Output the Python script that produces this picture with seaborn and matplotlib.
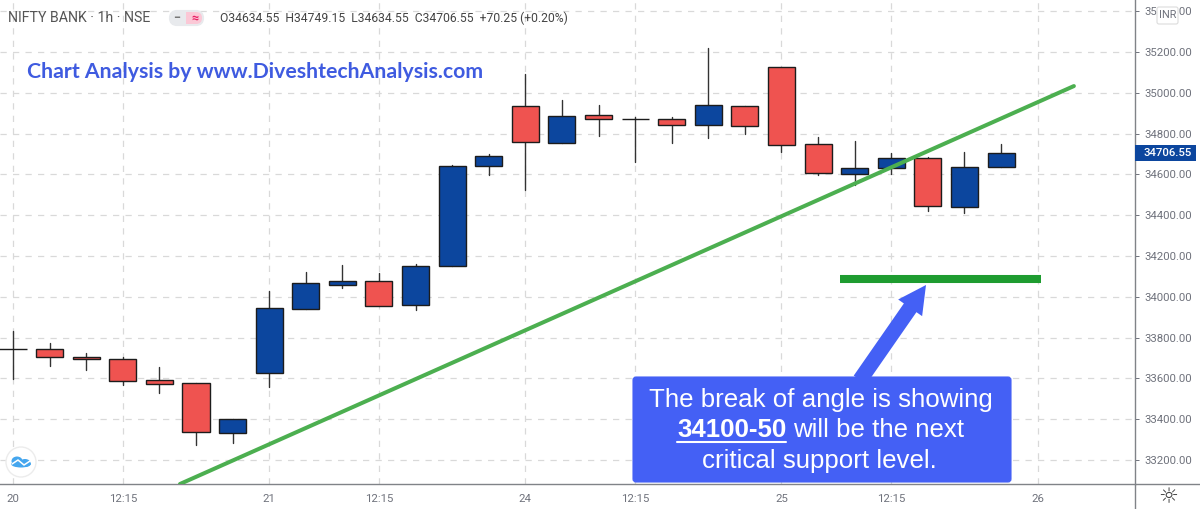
import pandas as pd
import numpy as np
import matplotlib
matplotlib.use('Agg')
import matplotlib.pyplot as plt
import seaborn as sns
from matplotlib.patches import FancyBboxPatch, FancyArrowPatch, Rectangle, Circle, Ellipse
from matplotlib.lines import Line2D
from matplotlib.transforms import Affine2D

# candle values
opens = [33746, 33742, 33706, 33697, 33590, 33576, 33331, 33626, 33940, 34058,
         34078, 33960, 34151, 34641, 34935, 34754, 34891, 34872, 34872, 34841,
         34935, 35128, 34748, 34602, 34630, 34679, 34439, 34634.55]
closes = [33746, 33705, 33695, 33589, 33574, 33336, 33402, 33945, 34068, 34078,
          33955, 34151, 34641, 34690, 34759, 34886, 34872, 34872, 34842, 34940,
          34836, 34743, 34607, 34631, 34679, 34444, 34636, 34706.55]
highs = [33834, 33772, 33723, 33703, 33656, 33576, 33402, 34028, 34122, 34156,
         34117, 34160, 34645, 34700, 35092, 34965, 34940, 34881, 34881, 35220,
         34935, 35128, 34782, 34764, 34705, 34685, 34711, 34749.15]
lows = [33597, 33662, 33641, 33568, 33530, 33274, 33283, 33560, 33940, 34043,
        33955, 33935, 34151, 34597, 34523, 34754, 34788, 34661, 34754, 34780,
        34798, 34710, 34597, 34547, 34602, 34421, 34411, 34634.55]

xtick_pos = [0, 3, 7, 10, 14, 17, 21, 24, 28]
xtick_labels = ['20', '12:15', '21', '12:15', '24', '12:15', '25', '12:15', '26']
ytick_values = [33200, 33400, 33600, 33800, 34000, 34200, 34400, 34600, 34800, 35000, 35200, 35400]

trend_x = [4.563, 28.99]
trend_y = [33082, 35033]
support_x = [22.6, 28.09]
support_y = [34088, 34088]
last_price = 34706.55

BLUE = '#0c469e'
RED = '#ef5350'
GREY = '#6f727c'

sns.set_theme(style='white')
plt.rcParams['font.family'] = ['Roboto', 'DejaVu Sans']

df = pd.DataFrame({'open': opens, 'close': closes, 'high': highs, 'low': lows})
df['i'] = np.arange(len(df))

wicks = pd.concat([df[['i', 'high']].rename(columns={'high': 'price'}),
                   df[['i', 'low']].rename(columns={'low': 'price'})]).sort_values('i')

fig = plt.figure(figsize=(12, 5.09), dpi=100)
ax = fig.add_axes([0, 25 / 509, 1135 / 1200, 484 / 509])
# pixel coords, top left origin like the picture
px = Affine2D().scale(1, -1).translate(0, 509)

ax.set_xlim(-0.355, 30.66)
ax.set_ylim(33082, 35455)

sns.lineplot(data=wicks, x='i', y='price', units='i', estimator=None, sort=False,
             color='#333333', linewidth=1.0, ax=ax, zorder=3)

colors = [BLUE if c > o else RED for o, c in zip(df['open'], df['close'])]
colors[0] = '#111111'
colors[17] = '#111111'
body_low = df[['open', 'close']].min(axis=1)
body_h = (df['close'] - df['open']).abs()
ax.bar(df['i'], body_h, bottom=body_low, width=0.74, color=colors,
       edgecolor='#1c1c1c', linewidth=1.0, zorder=4)

sns.lineplot(x=trend_x, y=trend_y, color='#4caf50', linewidth=2.9, ax=ax, zorder=5)
sns.lineplot(x=support_x, y=support_y, color='#1e9c30', linewidth=5.8, ax=ax, zorder=5,
             solid_capstyle='butt')

ax.set_xlabel('')
ax.set_ylabel('')
ax.set_xticks(xtick_pos)
ax.set_xticklabels(xtick_labels)
ax.set_yticks(ytick_values)
ax.set_yticklabels(['%.2f' % v for v in ytick_values])
ax.yaxis.tick_right()
ax.grid(True, color='#d9d9d9', linestyle=(0, (5, 5)), linewidth=0.9)
ax.set_axisbelow(True)
ax.tick_params(axis='both', colors=GREY, labelsize=8.2, length=3, width=0.7, pad=3.5)
ax.tick_params(axis='x', pad=4)
for s in ['top', 'left']:
    ax.spines[s].set_visible(False)
for s in ['right', 'bottom']:
    ax.spines[s].set_color('#808388')
    ax.spines[s].set_linewidth(1.0)

# axis lines run past the plot area
fig.add_artist(Line2D([1135, 1200], [484, 484], transform=px, color='#808388', lw=1.0))
fig.add_artist(Line2D([1135, 1135], [484, 509], transform=px, color='#808388', lw=1.0))

# header
fig.text(8, 18, 'NIFTY BANK · 1h · NSE', transform=px, fontsize=10.2, color='#555555', va='center')
pill = FancyBboxPatch((171, 12), 31, 12, boxstyle='round,pad=0,rounding_size=6', transform=px,
                      facecolor='#e8eaed', edgecolor='#e8eaed', linewidth=3)
fig.add_artist(pill)
pink = Rectangle((186, 8), 22, 20, transform=px, facecolor='#fbc8d6', edgecolor='none')
fig.add_artist(pink)
pink.set_clip_path(pill)
fig.text(177, 18, '−', transform=px, fontsize=9, color='#777777', ha='center', va='center', fontweight='bold')
fig.text(195, 18, '≈', transform=px, fontsize=9, color='#e91e63', ha='center', va='center', fontweight='bold')
fig.text(220, 18, 'O34634.55  H34749.15  L34634.55  C34706.55  +70.25 (+0.20%)', transform=px,
         fontsize=8.75, color='#444444', va='center')

fig.text(27, 72, 'Chart Analysis by www.DiveshtechAnalysis.com', transform=px,
         family='Lato', fontweight='bold', fontsize=15.3, color='#3f5be0', va='center')

# INR badge
fig.add_artist(FancyBboxPatch((1157, 7), 21, 17, boxstyle='round,pad=0,rounding_size=2', transform=px,
                              facecolor='white', edgecolor='#dcdcdc', linewidth=0.8, zorder=6))
fig.text(1167.5, 15.5, 'INR', transform=px, fontsize=7.8, color=GREY, ha='center', va='center', zorder=7)

# last price tag
fig.add_artist(Rectangle((1135, 145), 61, 16, transform=px, facecolor=BLUE, edgecolor='none', zorder=6))
fig.text(1144, 153, '%.2f' % last_price, transform=px, fontsize=8.2, color='white', va='center',
         fontweight='medium', zorder=7)

# arrow and callout
fig.add_artist(FancyArrowPatch(posA=(860, 380), posB=(926, 285), transform=px, mutation_scale=1,
                               arrowstyle='simple,head_length=20,head_width=21,tail_width=11',
                               shrinkA=0, shrinkB=0, facecolor='#4460f5', edgecolor='none', zorder=6))
fig.add_artist(FancyBboxPatch((633, 377), 378, 105, boxstyle='round,pad=0,rounding_size=3', transform=px,
                              facecolor='#4460f5', edgecolor='#4460f5', linewidth=0.8, zorder=7))
sans = 'Liberation Sans'
fig.text(821, 400, 'The break of angle is showing', transform=px, family=sans, fontsize=18.6,
         color='white', ha='center', va='center', zorder=8)
fig.text(677, 430, '34100-50', transform=px, family=sans, fontsize=18.6, fontweight='bold',
         color='white', ha='left', va='center', zorder=8)
fig.text(793, 430, 'will be the next', transform=px, family=sans, fontsize=18.6,
         color='white', ha='left', va='center', zorder=8)
fig.add_artist(Line2D([677, 786], [442, 442], transform=px, color='white', lw=1.5, zorder=8))
fig.text(819, 461, 'critical support level.', transform=px, family=sans, fontsize=18.6,
         color='white', ha='center', va='center', zorder=8)

# logo bottom left
fig.add_artist(Circle((21, 462), 15, transform=px, facecolor='white', edgecolor='#ececec', linewidth=1, zorder=6))
for cx, cy, w, h in [(17, 461, 11, 9), (25, 463, 11, 8), (21, 464, 20, 7)]:
    fig.add_artist(Ellipse((cx, cy), w, h, transform=px, facecolor='#45a6ee', edgecolor='none', zorder=7))
fig.add_artist(Line2D([12, 18, 24, 30], [464, 460, 465, 461], transform=px, color='white', lw=1.1, zorder=8))

# settings icon
fig.text(1168, 497, '☼', transform=px, family='DejaVu Sans', fontsize=16, color='#444444',
         ha='center', va='center')

fig.savefig('out.png', dpi=100)
